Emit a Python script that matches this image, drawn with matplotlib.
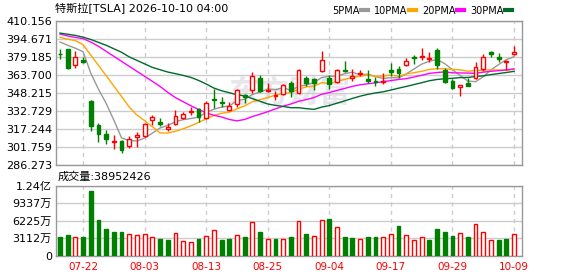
import numpy as np
import pandas as pd
import matplotlib as mpl
mpl.use('Agg')
import matplotlib.pyplot as plt

plt.rcParams['font.family'] = ['DejaVu Sans', 'Noto Sans CJK SC']
plt.rcParams['axes.unicode_minus'] = False

title = '特斯拉[TSLA] 2026-10-10 04:00'

# trading days shown (Labor Day 09-07 closed)
days = pd.bdate_range('2026-07-17', '2026-10-09')
days = days[days != pd.Timestamp('2026-09-07')]

open_ = [381.9, 385.8, 371.7, 376.3, 341.0, 320.1, 312.6, 306.0, 306.3, 302.6,
         310.1, 310.6, 324.4, 323.0, 317.2, 321.3, 326.2, 331.3, 334.4, 326.4,
         342.5, 340.5, 333.0, 338.7, 346.5, 350.5, 360.5, 349.4, 345.4, 347.1,
         356.2, 347.6, 360.8, 360.0, 366.6, 360.8, 357.4, 367.7, 360.5, 364.3,
         359.7, 358.2, 357.7, 367.7, 368.6, 371.7, 379.2, 378.6, 377.5, 384.9,
         367.7, 358.2, 352.8, 356.5, 360.8, 368.9, 382.9, 378.6, 374.6, 381.8]
close = [381.5, 369.7, 378.6, 374.9, 319.8, 312.9, 308.6, 306.6, 298.6, 308.1,
         311.5, 321.3, 327.3, 321.3, 318.7, 327.9, 329.9, 332.4, 327.3, 339.0,
         341.6, 339.3, 336.7, 350.5, 344.8, 362.3, 349.4, 350.5, 346.5, 354.5,
         349.4, 367.4, 356.2, 356.8, 376.0, 355.7, 367.4, 366.9, 362.8, 365.4,
         358.5, 357.1, 358.5, 366.0, 364.8, 375.5, 378.0, 379.8, 378.3, 372.3,
         357.7, 352.2, 354.5, 354.2, 370.0, 378.6, 381.5, 377.5, 375.7, 382.9]
high = [385.8, 386.0, 383.8, 379.2, 341.9, 322.1, 315.8, 311.5, 307.8, 310.6,
        314.4, 322.4, 328.7, 326.4, 321.8, 333.3, 331.9, 336.2, 335.0, 341.3,
        351.4, 344.5, 339.9, 351.7, 347.1, 366.0, 363.1, 356.2, 349.4, 355.7,
        358.5, 368.3, 362.6, 360.8, 384.1, 363.7, 368.9, 375.5, 368.9, 367.7,
        367.4, 361.7, 364.8, 373.7, 370.9, 378.0, 380.9, 386.6, 383.2, 386.6,
        369.4, 360.3, 355.1, 360.8, 374.6, 381.5, 383.8, 382.0, 376.3, 388.4]
low = [377.5, 369.0, 369.4, 373.4, 315.5, 306.1, 304.3, 299.7, 296.6, 300.6,
       301.5, 309.8, 320.7, 319.2, 314.9, 320.7, 325.8, 329.0, 323.0, 325.8,
       335.0, 336.2, 332.4, 335.6, 339.3, 347.9, 348.8, 348.8, 342.2, 345.9,
       344.8, 347.1, 353.9, 350.2, 366.0, 351.7, 356.8, 366.3, 358.0, 362.8,
       356.8, 353.9, 355.4, 362.3, 360.8, 370.9, 373.2, 376.6, 374.3, 368.9,
       356.5, 351.4, 345.6, 353.7, 359.7, 366.6, 378.6, 374.3, 367.4, 380.3]

# moving averages as drawn on the chart
ma5 = [391.8, 389.0, 386.5, 383.5, 365.0, 351.2, 339.0, 324.6, 309.3, 307.0,
       306.7, 309.2, 313.4, 317.9, 320.0, 323.3, 325.0, 326.0, 327.2, 331.3,
       334.0, 335.9, 336.8, 341.4, 342.6, 346.7, 348.7, 351.5, 350.7, 352.6,
       350.1, 353.7, 354.8, 356.9, 361.2, 362.4, 362.4, 364.6, 365.8, 363.6,
       364.2, 362.1, 360.5, 361.1, 361.0, 364.4, 368.6, 372.8, 375.3, 376.8,
       373.2, 368.1, 363.0, 358.2, 357.7, 361.9, 367.8, 372.4, 376.7, 379.2]
ma10 = [395.8, 394.3, 393.0, 389.5, 380.6, 371.7, 362.8, 353.9, 345.0, 335.9,
        328.9, 324.1, 319.0, 313.6, 313.5, 315.0, 317.1, 319.7, 322.6, 325.7,
        328.7, 330.5, 331.4, 334.3, 336.9, 340.4, 342.3, 344.1, 346.1, 347.6,
        348.4, 351.2, 353.2, 353.8, 356.9, 356.2, 358.0, 359.7, 361.3, 362.4,
        363.3, 362.3, 362.5, 363.4, 362.3, 364.3, 365.4, 366.6, 368.2, 368.9,
        368.8, 368.3, 367.9, 366.7, 367.3, 367.6, 367.9, 367.7, 367.4, 368.5]
ma20 = [398.7, 397.0, 395.8, 394.7, 391.8, 388.1, 383.8, 379.5, 375.2, 370.9,
        366.6, 362.3, 358.0, 353.6, 348.5, 344.0, 340.5, 337.0, 333.8, 330.8,
        328.8, 327.3, 325.2, 324.0, 325.2, 327.7, 329.7, 331.9, 334.3, 336.6,
        338.5, 340.8, 342.3, 344.0, 346.9, 348.3, 350.2, 351.9, 353.7, 355.0,
        355.9, 356.7, 357.8, 358.6, 359.6, 360.3, 361.7, 363.2, 364.8, 365.6,
        366.1, 365.3, 365.2, 365.1, 364.8, 365.9, 366.6, 367.2, 367.8, 368.7]
ma30 = [399.5, 398.5, 397.5, 396.0, 394.0, 391.5, 389.0, 386.0, 383.0, 379.0,
        376.0, 373.0, 370.0, 368.0, 366.0, 364.6, 363.1, 361.4, 358.8, 355.7,
        352.2, 349.9, 348.2, 346.5, 345.4, 343.1, 340.8, 338.5, 337.3, 336.4,
        335.3, 335.3, 334.5, 333.9, 335.8, 337.2, 339.2, 341.2, 343.3, 345.2,
        346.8, 348.0, 349.0, 350.5, 352.1, 353.6, 355.2, 356.8, 358.5, 359.6,
        360.2, 360.6, 361.2, 361.3, 362.2, 362.7, 363.8, 364.7, 365.6, 366.6]

# volume in millions of shares
vol_m = [32.5, 36.0, 33.6, 32.5, 115.6, 64.3, 46.6, 41.3, 41.3, 38.9,
         37.2, 38.9, 33.6, 28.9, 27.1, 40.7, 26.6, 24.8, 30.1, 35.4,
         46.0, 27.1, 28.9, 37.2, 32.5, 60.2, 41.3, 30.1, 30.1, 30.1,
         33.6, 62.0, 37.8, 35.4, 63.7, 66.1, 51.3, 33.6, 30.7, 30.1,
         33.6, 32.5, 33.6, 38.9, 53.7, 37.2, 28.3, 33.6, 27.1, 46.6,
         41.3, 34.2, 40.7, 32.5, 56.6, 42.5, 28.3, 27.1, 28.9, 38.952426]

price_ticks = [286.273, 301.759, 317.244, 332.729, 348.215, 363.700, 379.185, 394.671, 410.156]
vol_ticks = [0, 31.12e6, 62.25e6, 93.37e6, 124.49e6]
vol_labels = ['0', '3112万', '6225万', '9337万', '1.24亿']
ma_names = ['5PMA', '10PMA', '20PMA', '30PMA']
ma_colors = ['#999999', '#FFA500', '#FF00FF', '#006B2D']

RED = '#FF0000'
GREEN = '#008000'
FRAME = '#999999'
GRID = '#cccccc'

o = np.array(open_)
c = np.array(close)
h = np.array(high)
l = np.array(low)
v = np.array(vol_m) * 1e6
x = np.arange(len(c))
up = c >= o
vup = np.r_[c[0] > o[0], np.diff(c) > 0]

W, H = 578, 276
def box(left, top, right, bottom):
    return [left / W, 1 - bottom / H, (right - left) / W, (bottom - top) / H]

fig = plt.figure(figsize=(W / 100, H / 100), dpi=100)
ax = fig.add_axes(box(56, 20.7, 522, 164.7))
axv = fig.add_axes(box(56, 186, 522, 255.5))

ax.text(0.5, 0.5, '东方财富', transform=ax.transAxes, fontsize=22, color='#e6e6ec',
        fontweight='bold', ha='center', va='center', zorder=0, family='Noto Sans CJK SC')

for m, name, col in zip([ma5, ma10, ma20, ma30], ma_names, ma_colors):
    ax.plot(x, m, color=col, lw=1, label=name, zorder=2)

ax.vlines(x, l, h, colors=np.where(up, RED, GREEN), lw=1, zorder=3)
ax.bar(x, np.abs(c - o), bottom=np.minimum(o, c), width=0.5,
       facecolor=np.where(up, 'white', GREEN), edgecolor=np.where(up, RED, GREEN),
       lw=1, zorder=4)

axv.bar(x, v, width=0.5, facecolor=np.where(vup, 'white', GREEN),
        edgecolor=np.where(vup, RED, GREEN), lw=1, zorder=3)

tick_idx = list(range(3, len(x), 8))
for a in (ax, axv):
    a.set_xlim(-0.52, 60.04)
    a.set_xticks(tick_idx)
    a.set_axisbelow(True)
    a.yaxis.grid(True, color=GRID, lw=1, ls='-')
    a.xaxis.grid(True, color=GRID, lw=1, ls=(0, (3, 3)))
    a.tick_params(length=0, labelsize=8, pad=3)
    for s in a.spines.values():
        s.set_color(FRAME)
        s.set_linewidth(1)

ax.set_ylim(price_ticks[0], price_ticks[-1])
ax.set_yticks(price_ticks)
ax.set_yticklabels(['%.3f' % t for t in price_ticks])
ax.set_xticklabels([])

axv.set_ylim(0, vol_ticks[-1])
axv.set_yticks(vol_ticks)
axv.set_yticklabels(vol_labels)
axv.set_xticklabels([days[i].strftime('%m-%d') for i in tick_idx], color=RED, fontsize=7.5)
axv.tick_params(axis='x', pad=5)

leg = ax.legend(ncol=4, markerfirst=False, loc='lower right', bbox_to_anchor=(0.9785, 1.035),
                frameon=False, fontsize=7, handlelength=0.7, handletextpad=0.2,
                columnspacing=0.6, borderaxespad=0, borderpad=0)
for ln in leg.get_lines():
    ln.set_linewidth(3)

fig.text(55 / W, 1 - 8.5 / H, title, fontsize=8, va='center', ha='left')
fig.text(58 / W, 1 - 176.7 / H, '成交量:%d' % round(vol_m[-1] * 1e6), fontsize=8,
         va='center', ha='left')

fig.savefig('out.png', dpi=100)
